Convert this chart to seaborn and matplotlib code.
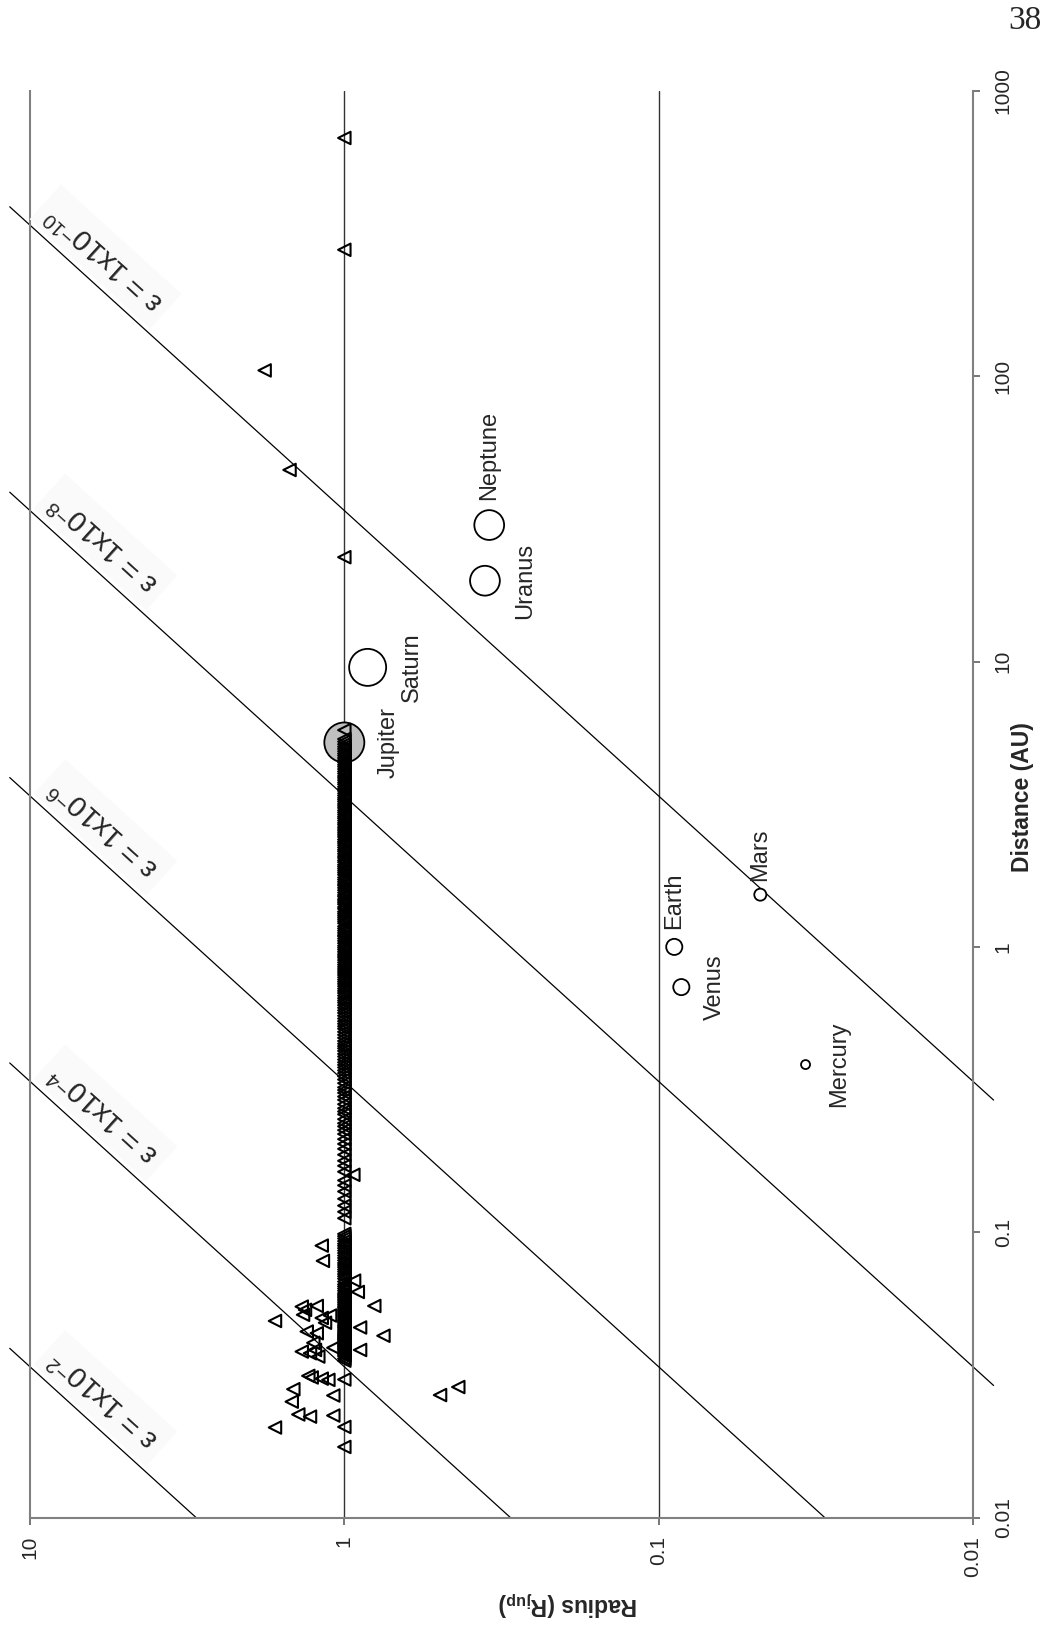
import numpy as np
import pandas as pd
import matplotlib
matplotlib.use('Agg')
import matplotlib.pyplot as plt
import seaborn as sns

# exoplanets without a measured radius -> plotted at 1 R_jup
col_dist = [0.0177, 0.0208, 0.0305,
            0.0355, 0.0361, 0.0368, 0.0372, 0.0376, 0.0380, 0.0384, 0.0388, 0.0391,
            0.0395, 0.0398, 0.0401, 0.0404, 0.0408, 0.0411, 0.0415, 0.0419, 0.0422,
            0.0425, 0.0428, 0.0431, 0.0435, 0.0438, 0.0442, 0.0447, 0.0451, 0.0456,
            0.0462, 0.0466, 0.0471, 0.0477, 0.0483, 0.0488, 0.0492, 0.0498, 0.0505,
            0.0509, 0.0514, 0.0521, 0.0526, 0.0532, 0.0538, 0.0545, 0.0551, 0.0559,
            0.0567, 0.0575, 0.0583, 0.0591, 0.0598, 0.0605, 0.0612, 0.0624, 0.0635,
            0.0646, 0.0657, 0.0672, 0.0688, 0.0701, 0.0714, 0.0728, 0.0741, 0.0755,
            0.0768, 0.0781, 0.0797, 0.0813, 0.0829, 0.0846, 0.0863, 0.0880, 0.0897,
            0.0912, 0.0931, 0.0951, 0.0969, 0.0987,
            0.112, 0.118, 0.124, 0.131, 0.139, 0.146, 0.152, 0.163, 0.171, 0.178,
            0.187, 0.196, 0.204, 0.212, 0.221, 0.228, 0.235, 0.241, 0.249, 0.259,
            0.265, 0.272, 0.281, 0.291, 0.299, 0.308, 0.315, 0.322, 0.333, 0.343,
            0.352, 0.361, 0.369, 0.378, 0.386, 0.394, 0.403, 0.413, 0.422, 0.432,
            0.441, 0.449, 0.458, 0.468, 0.480, 0.492, 0.504, 0.517, 0.527, 0.538,
            0.549, 0.561, 0.574, 0.587, 0.599, 0.612, 0.625, 0.638, 0.649, 0.661,
            0.675, 0.689, 0.701, 0.714, 0.728, 0.742, 0.755, 0.768, 0.782, 0.797,
            0.810, 0.823, 0.837, 0.851, 0.866, 0.882, 0.899, 0.916, 0.929, 0.943,
            0.961, 0.978, 0.994, 1.01, 1.03, 1.05, 1.07, 1.09, 1.10, 1.12, 1.14,
            1.16, 1.18, 1.21, 1.23, 1.25, 1.27, 1.29, 1.31, 1.33, 1.36, 1.38, 1.41,
            1.43, 1.45, 1.47, 1.50, 1.52, 1.55, 1.58, 1.61, 1.64, 1.66, 1.69, 1.72,
            1.75, 1.79, 1.82, 1.85, 1.88, 1.91, 1.94, 1.98, 2.01, 2.05, 2.08, 2.12,
            2.16, 2.19, 2.23, 2.27, 2.31, 2.34, 2.38, 2.43, 2.47, 2.51, 2.55, 2.59,
            2.63, 2.68, 2.72, 2.77, 2.82, 2.86, 2.91, 2.96, 3.01, 3.07, 3.12, 3.17,
            3.23, 3.28, 3.33, 3.39, 3.45, 3.52, 3.58, 3.64, 3.71, 3.77, 3.84, 3.91,
            3.97, 4.05, 4.12, 4.20, 4.28, 4.35, 4.43, 4.51, 4.59, 4.68, 4.76, 4.85,
            4.94, 5.03, 5.13, 5.24, 5.35, 5.75,
            23.2, 277, 683]

# exoplanets with measured radius
fit_dist = [0.0898, 0.0794, 0.0677, 0.0618, 0.0552, 0.0549, 0.0535, 0.0552, 0.0514,
            0.0489, 0.0501, 0.0511, 0.0482, 0.0464, 0.0434, 0.0449, 0.0443, 0.0410,
            0.0387, 0.0394, 0.0387, 0.0382, 0.0377, 0.0367, 0.0314, 0.0310, 0.0307,
            0.0304, 0.0282, 0.0255, 0.0268, 0.0230, 0.0226, 0.0228, 0.0207, 0.0269,
            0.0287, 0.159, 104.7, 46.9]
fit_rad = [1.18, 1.17, 0.931, 0.906, 0.803, 1.366, 1.334, 1.224, 1.353,
           1.662, 1.18, 1.11, 1.152, 0.891, 0.751, 1.317, 1.224, 1.255,
           1.24, 1.084, 0.891, 1.366, 1.286, 1.21, 1.302, 1.27, 1.18,
           1.124, 1.453, 1.47, 1.084, 1.401, 1.286, 1.084, 1.662, 0.496,
           0.434, 0.936, 1.793, 1.494]

# solar system
planet_names = ['Mercury', 'Venus', 'Earth', 'Mars', 'Jupiter', 'Saturn', 'Uranus', 'Neptune']
planet_dist = [0.387, 0.723, 1.0, 1.524, 5.203, 9.537, 19.19, 30.07]
planet_rad = [0.0341, 0.0847, 0.0892, 0.0475, 1.0, 0.843, 0.357, 0.346]

# contrast lines eps = albedo * (R/a)^2
eps_levels = [1e-2, 1e-4, 1e-6, 1e-8, 1e-10]
eps_labels = ['-2', '-4', '-6', '-8', '-10']
albedo = 0.5
rjup_au = 71492.0 / 1.496e8

dist_ticks = [0.01, 0.1, 1, 10, 100, 1000]
rad_ticks = [10, 1, 0.1, 0.01]

# styles
planet_size = {'Mercury': 42, 'Venus': 135, 'Earth': 135, 'Mars': 75,
               'Jupiter': 830, 'Saturn': 710, 'Uranus': 460, 'Neptune': 460}
planet_fill = {n: 'white' for n in planet_names}
planet_fill['Jupiter'] = '#c0c0c0'
# label offset (points), vertical alignment
planet_lab = {'Mercury': (24, 0, 'center'), 'Venus': (24, 0, 'center'),
              'Earth': (0, 13, 'bottom'), 'Mars': (0, 10, 'bottom'),
              'Jupiter': (32, 0, 'center'), 'Saturn': (32, 0, 'center'),
              'Uranus': (29, 0, 'center'), 'Neptune': (0, 18, 'bottom')}

sns.set_style('white')
plt.rcParams['font.family'] = ['Liberation Sans', 'DejaVu Sans']
plt.rcParams['mathtext.fontset'] = 'custom'
plt.rcParams['mathtext.rm'] = 'Liberation Sans'
plt.rcParams['mathtext.it'] = 'Liberation Sans:italic'
plt.rcParams['mathtext.bf'] = 'Liberation Sans:bold'
plt.rcParams['mathtext.default'] = 'regular'
plt.rcParams['xtick.labelsize'] = 15
plt.rcParams['ytick.labelsize'] = 15

col_df = pd.DataFrame({'distance': col_dist, 'radius': 1.0})
fit_df = pd.DataFrame({'distance': fit_dist, 'radius': fit_rad})
exo_df = pd.concat([col_df, fit_df], ignore_index=True)
planet_df = pd.DataFrame({'name': planet_names, 'distance': planet_dist, 'radius': planet_rad})

fig = plt.figure(figsize=(10.47, 16.27), dpi=100)
ax = fig.add_axes([30 / 1047, 1 - 1517.7 / 1627, 943 / 1047, 1427 / 1627])

ax.set_xscale('log')
ax.set_yscale('log')
ax.set_xlim(10, 0.01)
ax.set_ylim(0.01, 1000)

# contrast lines
for eps, lab in zip(eps_levels, eps_labels):
    k = np.sqrt(albedo * rjup_au ** 2 / eps)   # d = k * r
    r_end = max(0.0086, 0.01 / k)
    ax.plot([11.6, r_end], [11.6 * k, r_end * k], color='black', lw=0.9,
            clip_on=False, zorder=2)
    ax.text(5.75, 5.75 * k * 1.35, 'ε = 1x10$^{' + lab + '}$', fontsize=21,
            rotation=137.8, rotation_mode='anchor', ha='center', va='center',
            bbox=dict(boxstyle='square,pad=0.3', fc='#fafafa', ec='none'), zorder=3)

sns.scatterplot(data=planet_df, x='radius', y='distance', hue='name', palette=planet_fill,
                size='name', sizes=planet_size, edgecolor='black', linewidth=1.3,
                legend=False, ax=ax, zorder=4)

sns.scatterplot(data=exo_df, x='radius', y='distance', marker='<', s=80,
                facecolor='none', edgecolor='black', linewidth=1.5, ax=ax, zorder=5)

for name, d, r in zip(planet_names, planet_dist, planet_rad):
    dx, dy, va = planet_lab[name]
    ax.annotate(name, (r, d), xytext=(dx, dy), textcoords='offset points',
                rotation=90, ha='center', va=va, fontsize=17, zorder=6)

# grid / spines
ax.grid(False)
for xv in [1, 0.1]:
    ax.axvline(xv, color='#333333', lw=1.0, zorder=1)
ax.spines['top'].set_visible(False)
for s in ['left', 'right', 'bottom']:
    ax.spines[s].set_color('#808080')
    ax.spines[s].set_linewidth(1.5)

ax.minorticks_off()
ax.set_xticks(rad_ticks)
ax.set_xticklabels(['10', '1', '0.1', '0.01'], fontsize=15)
ax.set_yticks(dist_ticks)
ax.set_yticklabels(['0.01', '0.1', '1', '10', '100', '1000'], fontsize=15)
ax.minorticks_off()
ax.yaxis.tick_right()
ax.tick_params(axis='x', direction='out', length=5, width=1.2, color='#606060',
               bottom=True, labelsize=15, labelrotation=90, pad=8)
ax.tick_params(axis='y', direction='out', length=5, width=1.2, color='#606060',
               right=True, left=False, labelright=True, labelleft=False,
               labelsize=15, labelrotation=90, pad=10)
for lbl in ax.get_yticklabels():
    lbl.set_va('center')
ax.set_xlabel('')
ax.set_ylabel('')

fig.text(1022 / 1047, 1 - 797 / 1627, 'Distance (AU)', rotation=90, fontsize=16.5,
         fontweight='bold', ha='center', va='center')
fig.text(568 / 1047, 1 - 1603 / 1627, 'Radius (R$_{jup}$)', rotation=180, fontsize=16.5,
         fontweight='bold', ha='center', va='center')
fig.text(1025 / 1047, 1 - 21 / 1627, '38', fontsize=24, family='Liberation Serif',
         ha='center', va='center')

fig.savefig('out.png', dpi=100, facecolor='white')
